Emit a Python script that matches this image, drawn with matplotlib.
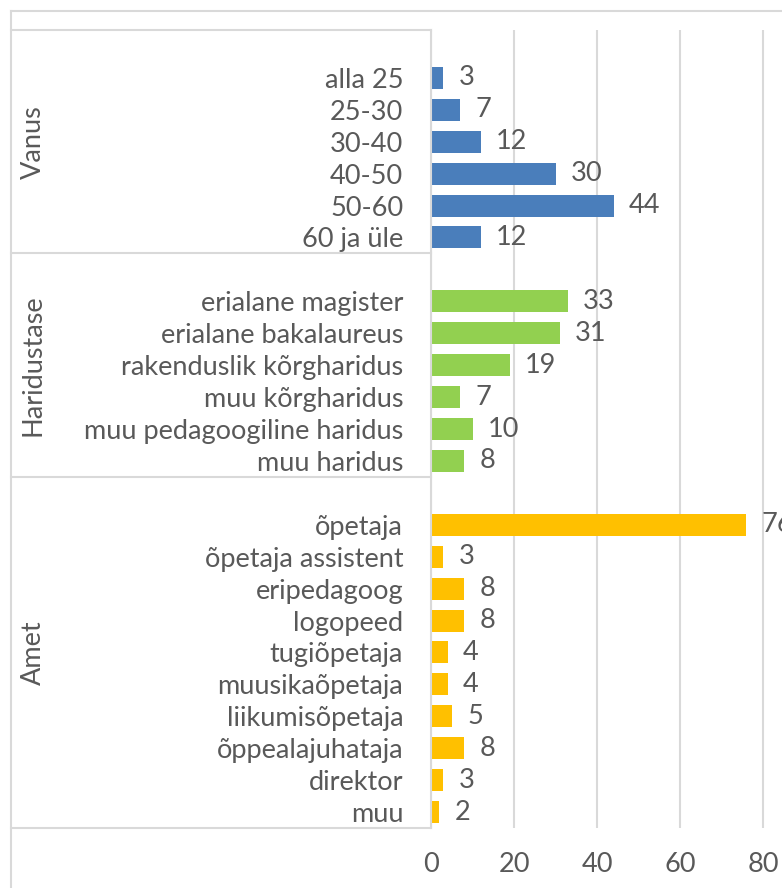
import matplotlib
matplotlib.use("Agg")
import matplotlib.pyplot as plt
from matplotlib.lines import Line2D
from matplotlib.transforms import blended_transform_factory

# andmed
groups = ["Vanus", "Haridustase", "Amet"]
vanus_labels = ["alla 25", "25-30", "30-40", "40-50", "50-60", "60 ja üle"]
vanus_values = [3, 7, 12, 30, 44, 12]
haridus_labels = ["erialane magister", "erialane bakalaureus", "rakenduslik kõrgharidus",
                  "muu kõrgharidus", "muu pedagoogiline haridus", "muu haridus"]
haridus_values = [33, 31, 19, 7, 10, 8]
amet_labels = ["õpetaja", "õpetaja assistent", "eripedagoog", "logopeed", "tugiõpetaja",
               "muusikaõpetaja", "liikumisõpetaja", "õppealajuhataja", "direktor", "muu"]
amet_values = [76, 3, 8, 8, 4, 4, 5, 8, 3, 2]
colors = ["#4A7EBB", "#92D050", "#FFC000"]
x_ticks = [0, 20, 40, 60, 80, 100]

plt.rcParams["font.family"] = ["Lato", "DejaVu Sans"]
fs = 19.5
txt = "#595959"
line_c = "#D9D9D9"
W, H = 782, 888

fig = plt.figure(figsize=(W / 100, H / 100), dpi=100)
ax = fig.add_axes([431 / W, 1 - 828 / H, 415 / W, 798 / H])

# ridade asukohad: iga grupi ees üks tühi rida
all_labels = [vanus_labels, haridus_labels, amet_labels]
all_values = [vanus_values, haridus_values, amet_values]
ticks, tick_labels = [], []
bounds = [-0.5]
pos = 0
centers = []
for labels, values, col in zip(all_labels, all_values, colors):
    start = pos
    pos += 1
    ys = list(range(pos, pos + len(labels)))
    ax.barh(ys, values, height=0.69, color=col)
    for y, v in zip(ys, values):
        ax.annotate(str(v), (v, y), xytext=(11, 0), textcoords="offset points",
                    va="center", ha="left", fontsize=fs, color=txt, annotation_clip=False)
    ticks += ys
    tick_labels += labels
    pos += len(labels)
    bounds.append(pos - 0.5)
    centers.append((start + pos - 1) / 2)

ax.set_ylim(pos - 0.5, -0.5)
ax.set_xlim(0, 100)
ax.set_yticks(ticks)
ax.set_yticklabels(tick_labels)
ax.set_xticks(x_ticks)
ax.tick_params(axis="y", length=0, pad=20, labelsize=fs, labelcolor=txt)
ax.tick_params(axis="x", length=0, pad=17, labelsize=fs, labelcolor=txt)
ax.xaxis.grid(True, color=line_c, linewidth=1.5)
ax.set_axisbelow(True)
for s in ["top", "right", "bottom"]:
    ax.spines[s].set_visible(False)
ax.spines["left"].set_color(line_c)
ax.spines["left"].set_linewidth(1.5)

# kategooriate kasti jooned
tr = blended_transform_factory(fig.transFigure, ax.transData)
for b in bounds:
    fig.add_artist(Line2D([11 / W, 431 / W], [b, b], transform=tr, color=line_c, lw=1.5))
for g, c in zip(groups, centers):
    fig.text(33 / W, c, g, transform=tr, rotation=90, ha="center", va="center",
             fontsize=fs, color=txt)

# välimine raam
fig.add_artist(Line2D([11 / W, 11 / W], [0, 1 - 11 / H], color=line_c, lw=1.5))
fig.add_artist(Line2D([11 / W, 1], [1 - 11 / H, 1 - 11 / H], color=line_c, lw=1.5))

fig.savefig("out.png", dpi=100)
